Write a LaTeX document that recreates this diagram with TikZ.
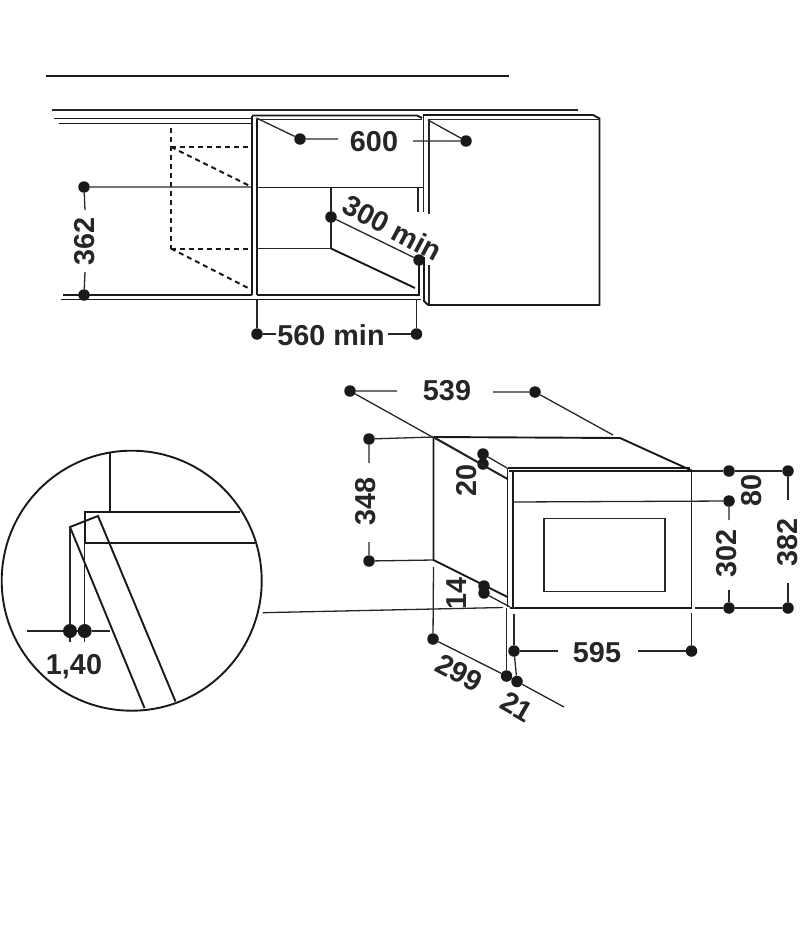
\documentclass[tikz,border=0pt]{standalone}
\usepackage{fontspec}
\setmainfont{Liberation Sans}
\begin{document}
\begin{tikzpicture}[x=1pt,y=-1pt]
\tikzstyle{dot}=[circle,fill=black!90,minimum size=11.5pt,inner sep=0]
\tikzstyle{bigdot}=[circle,fill=black!90,minimum size=14pt,inner sep=0]
\tikzstyle{dim}=[font=\fontsize{28.8}{29}\selectfont\bfseries,inner sep=0,text=black!85]
\tikzstyle{edge}=[line width=1.9pt,black!90,line join=miter]
\tikzstyle{thin}=[line width=1.3pt,black!85]
\tikzstyle{hidden}=[line width=2pt,black!90,dash pattern=on 5pt off 4pt]
\useasboundingbox (0,0) rectangle (800,950);
% cabinet, top view
\draw[edge] (46,76) -- (509,76);
\draw[thin] (52,110) -- (578,110);
\draw[edge] (54,118.5) -- (252,118.5);
\draw[edge] (59,123.5) -- (252,123.5);
\draw[edge] (252,116) -- (252,295);
\draw[edge] (257,119) -- (257,295);
\draw[edge] (252,115.5) -- (417,115.5) -- (422,118);
\draw[thin] (257,119.5) -- (422,119.5);
\draw[edge] (257,187.5) -- (424,187.5);
\draw[thin] (257,248.5) -- (331,248.5) -- (331,187.5);
\draw[edge] (331,248.5) -- (415,288);
\draw[edge] (63,295) -- (252,295);
\draw[edge] (61,299.5) -- (421,299.5);
\draw[edge] (257,295) -- (419,295);
\draw[thin] (418,187.5) -- (418,212);
\draw[thin] (423.5,116) -- (423.5,212);
\draw[thin] (429,119) -- (429,214);
\draw[edge] (419,260) -- (419,296);
\draw[edge] (424,257) -- (424,301) -- (428,305);
\draw[thin] (429,265) -- (429,305);
% door
\draw[edge] (423,115) -- (593,115) -- (599.5,118.5) -- (599.5,305) -- (428,305);
\draw[thin] (428,119.5) -- (599.5,119.5);
% hidden part of the opening
\draw[hidden] (171,128) -- (171,248.5);
\draw[hidden] (171,147) -- (250,147);
\draw[hidden] (171,147) -- (250,186);
\draw[hidden] (171,248.5) -- (250,248.5);
\draw[hidden] (171,248.5) -- (250,289);
% oven
\draw[edge] (433.5,437) -- (620,438) -- (691.5,470.5);
\draw[edge] (433.5,437) -- (433.5,560) -- (507.5,597);
\draw[edge] (433.5,437) -- (507.5,479);
\draw[edge] (507.5,468) -- (690,468);
\draw[edge] (509,471) -- (691.5,471);
\draw[edge] (507.5,468) -- (507.5,607);
\draw[edge] (513,472) -- (513,608);
\draw[edge] (691.5,470.5) -- (691.5,608) -- (510,608);
\draw[thin] (544,518.5) rectangle (665,591.5);
% dimension points
\node[dot] (w600a) at (300,139) {};
\node[dot] (w600b) at (466,141) {};
\node[dot] (h362a) at (84,187) {};
\node[dot] (h362b) at (84,295) {};
\node[dot] (d300a) at (331,217) {};
\node[dot] (d300b) at (419,260) {};
\node[dot] (w560a) at (257,334) {};
\node[dot] (w560b) at (416.5,334) {};
\node[dot] (w539a) at (350,391) {};
\node[dot] (w539b) at (535,392) {};
\node[dot] (h348a) at (369,439) {};
\node[dot] (h348b) at (369,561) {};
\node[dot] (h20a) at (483,454) {};
\node[dot] (h20b) at (483,464) {};
\node[dot] (h14a) at (484,586) {};
\node[dot] (h14b) at (484,593) {};
\node[dot] (h80a) at (729,471) {};
\node[dot] (h80b) at (729,501) {};
\node[dot] (h302) at (729,608) {};
\node[dot] (h382a) at (788,471) {};
\node[dot] (h382b) at (788,608) {};
\node[dot] (w595a) at (514,651) {};
\node[dot] (w595b) at (691.5,651) {};
\node[dot] (d299a) at (433,639) {};
\node[dot] (d299b) at (506.5,676) {};
\node[dot] (d21) at (517,681.5) {};
\node[bigdot] (g140a) at (70,631) {};
\node[bigdot] (g140b) at (84.7,631) {};
% labels
\node[dim] (l600) at (374,142) {600};
\node[dim,rotate=90] (l362) at (85,241) {362};
\node[dim,rotate=-28] (l300) at (392.5,228) {300 min};
\node[dim] (l560) at (331,335) {560 min};
\node[dim] (l539) at (447,391) {539};
\node[dim,rotate=90] (l348) at (366,501) {348};
\node[dim,rotate=90] (l20) at (467,480) {20};
\node[dim,rotate=90] (l14) at (457,593) {14};
\node[dim,rotate=90] (l80) at (752,490) {80};
\node[dim,rotate=90] (l302) at (727,553) {302};
\node[dim,rotate=90] (l382) at (788,542) {382};
\node[dim] (l595) at (597,653) {595};
\node[dim,rotate=-28] (l299) at (459,673) {299};
\node[dim,rotate=-30] (l21) at (517,707) {21};
\node[dim] (l140) at (74,667) {1,40};
% free ends of the dimension lines
\coordinate (p1) at (256.5,118);
\coordinate (p2) at (338,139);
\coordinate (p3) at (413,141);
\coordinate (p4) at (428,120);
\coordinate (p5) at (252,187);
\coordinate (p6) at (85,210);
\coordinate (p7) at (85,272);
\coordinate (p8) at (257,300);
\coordinate (p9) at (276,334);
\coordinate (p10) at (388,334);
\coordinate (p11) at (416.5,300);
\coordinate (p12) at (397,391);
\coordinate (p13) at (493,392);
\coordinate (p14) at (507.5,479);
\coordinate (p15) at (613,435);
\coordinate (p16) at (433.5,437);
\coordinate (p17) at (369,463);
\coordinate (p18) at (369,542);
\coordinate (p19) at (433.5,560);
\coordinate (p20) at (507,468);
\coordinate (p21) at (510,607);
\coordinate (p22) at (691.5,471);
\coordinate (p23) at (513,502);
\coordinate (p24) at (729,520);
\coordinate (p25) at (729,590);
\coordinate (p26) at (695,608);
\coordinate (p27) at (788,500);
\coordinate (p28) at (788,583);
\coordinate (p29) at (691.5,613);
\coordinate (p30) at (638,651);
\coordinate (p31) at (558,651);
\coordinate (p32) at (514,614);
\coordinate (p33) at (506.5,608);
\coordinate (p34) at (433.5,567);
\coordinate (p35) at (564,707);
% dimension lines
\draw[thin] (p1) -- (w600a) -- (p2);
\draw[thin] (p3) -- (w600b) -- (p4);
\draw[thin] (p5) -- (h362a) -- (p6);
\draw[thin] (p7) -- (h362b);
\draw[thin] (d300a) -- (d300b);
\draw[thin] (p8) -- (w560a) -- (p9);
\draw[thin] (p10) -- (w560b) -- (p11);
\draw[thin] (p12) -- (w539a) -- (p14);
\draw[thin] (p13) -- (w539b) -- (p15);
\draw[thin] (p16) -- (h348a) -- (p17);
\draw[thin] (p18) -- (h348b) -- (p19);
\draw[thin] (h20a) -- (p20);
\draw[thin] (h14b) -- (p21);
\draw[thin] (p22) -- (h80a) -- (h382a) -- (p27);
\draw[thin] (p23) -- (h80b) -- (p24);
\draw[thin] (p25) -- (h302);
\draw[thin] (p26) -- (h302) -- (h382b) -- (p28);
\draw[thin] (p29) -- (w595b) -- (p30);
\draw[thin] (p31) -- (w595a) -- (p32);
\draw[thin] (w595a) -- (d21);
\draw[thin] (p33) -- (d299b);
\draw[thin] (p34) -- (d299a) -- (d299b) -- (d21) -- (p35);
% detail circle
\node[circle,draw=black!90,line width=1.9pt,minimum size=260pt,inner sep=0] (zoom) at (131.7,580.7) {};
\coordinate (q1) at (503,607.5);
\coordinate (q2) at (26.7,631);
\coordinate (q3) at (110,631);
\coordinate (q4) at (70,527);
\coordinate (q5) at (70,642);
\coordinate (q6) at (84.7,543);
\coordinate (q7) at (84.7,642);
\draw[thin] (zoom.east) ++(0,32) -- (q1);
\draw[edge] (110,452) -- (110,512);
\draw[edge] (84.7,543) -- (84.7,512) -- (240,512);
\draw[edge] (84.7,543) -- (255,543);
\draw[edge] (144.5,708) -- (70,527) -- (98,516) -- (175.5,701.5);
\draw[thin] (q2) -- (g140a) -- (g140b) -- (q3);
\draw[thin] (q4) -- (g140a) -- (q5);
\draw[thin] (q6) -- (g140b) -- (q7);
\end{tikzpicture}
\end{document}
